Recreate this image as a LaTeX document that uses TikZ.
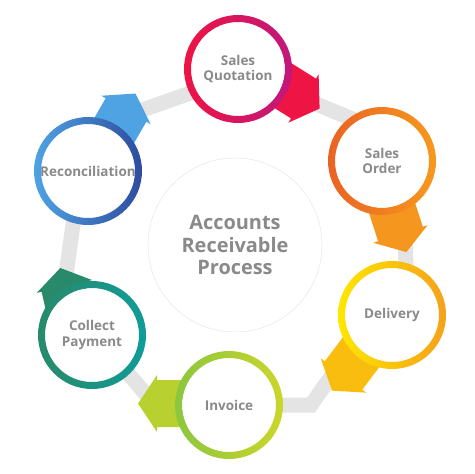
\documentclass[tikz,border=0pt]{standalone}
\usepackage{fontspec}
\setmainfont{Open Sans}
\usepackage{tikz}
\definecolor{txtgray}{HTML}{8A8A8A}
\definecolor{bandgray}{HTML}{E4E4E4}
\definecolor{quotA}{HTML}{EE1443}
\definecolor{quotB}{HTML}{C0187C}
\definecolor{ordA}{HTML}{EA6224}
\definecolor{ordB}{HTML}{F6991E}
\definecolor{delA}{HTML}{FFE600}
\definecolor{delB}{HTML}{F5A11A}
\definecolor{invA}{HTML}{8CC63F}
\definecolor{invB}{HTML}{CBD62A}
\definecolor{colA}{HTML}{288A6A}
\definecolor{colB}{HTML}{109C97}
\definecolor{recA}{HTML}{4FA3E3}
\definecolor{recB}{HTML}{2E4C9E}
\tikzstyle{stage}=[circle,%
                   fill=white,%
                   minimum size=2.82cm,%
                   inner sep=0pt,%
                   align=center,%
                   text=txtgray,%
                   font=\bfseries\fontsize{11.5}{13.5}\selectfont]
\tikzstyle{hub}=[circle,draw=black!10,fill=white,minimum size=5.22cm,align=center,text=txtgray,font=\bfseries\fontsize{17}{19.5}\selectfont]
\tikzstyle{band}=[draw=bandgray,line width=0.45cm,line join=miter]
\tikzset{pics/blockarrow/.style={code={%
  \fill[#1] (-62,-23.5) -- (0,-23.5) -- (0,-28.5) -- (19,0) -- (0,28.5) -- (0,23.5) -- (-62,23.5) -- cycle;}}}

\begin{document}
\begin{tikzpicture}[x=0.03cm,y=-0.03cm]
            \useasboundingbox (0,0) rectangle (474,474);
            % grey ring behind the stages
            \coordinate (b1) at (86,130);
            \coordinate (b2) at (244,74);
            \coordinate (b3) at (403,140);
            \coordinate (b4) at (406,270);
            \coordinate (b5) at (311,405);
            \coordinate (b6) at (155,405);
            \coordinate (b7) at (63,297);
            \draw[band] (b1) -- (b2) -- (b3) -- (b4) -- (b5) -- (b6) -- (b7) -- cycle;
            % block arrows
            \pic[rotate=-32]  at (303.5,98.5) {blockarrow=quotA};
            \pic[rotate=-72]  at (400.5,234)  {blockarrow=ordB!95!ordA};
            \pic[rotate=-127] at (343.5,375.5) {blockarrow=delB!60!delA};
            \pic[rotate=180]  at (157,403.5)  {blockarrow=invB!70!invA};
            \pic[rotate=103]  at (64.5,286.5) {blockarrow=colA};
            \pic[rotate=60]   at (126,110)    {blockarrow=recA};
            % centre
            \node[hub] (hub) at (235,245) {Accounts\\Receivable\\Process};
            % stages
            \node[stage] (quot) at (238,69)  {Sales\\Quotation};
            \node[stage] (ord)  at (382,161) {Sales\\Order};
            \node[stage] (del)  at (392,315) {Delivery};
            \node[stage] (inv)  at (229,405) {Invoice};
            \node[stage] (col)  at (92,335)  {Collect\\Payment};
            \node[stage] (rec)  at (88,171)  {Reconciliation};
            \shade[left color=quotA,right color=quotB,even odd rule] (quot.center) circle[radius=1.62cm] (quot.center) circle[radius=1.41cm];
            \shade[left color=ordA,right color=ordB,even odd rule] (ord.center) circle[radius=1.62cm] (ord.center) circle[radius=1.41cm];
            \shade[left color=delA,right color=delB,even odd rule] (del.center) circle[radius=1.62cm] (del.center) circle[radius=1.41cm];
            \shade[left color=invA,right color=invB,even odd rule] (inv.center) circle[radius=1.62cm] (inv.center) circle[radius=1.41cm];
            \shade[left color=colA,right color=colB,even odd rule] (col.center) circle[radius=1.62cm] (col.center) circle[radius=1.41cm];
            \shade[left color=recA,right color=recB,even odd rule] (rec.center) circle[radius=1.62cm] (rec.center) circle[radius=1.41cm];
  \end{tikzpicture}
\end{document}
